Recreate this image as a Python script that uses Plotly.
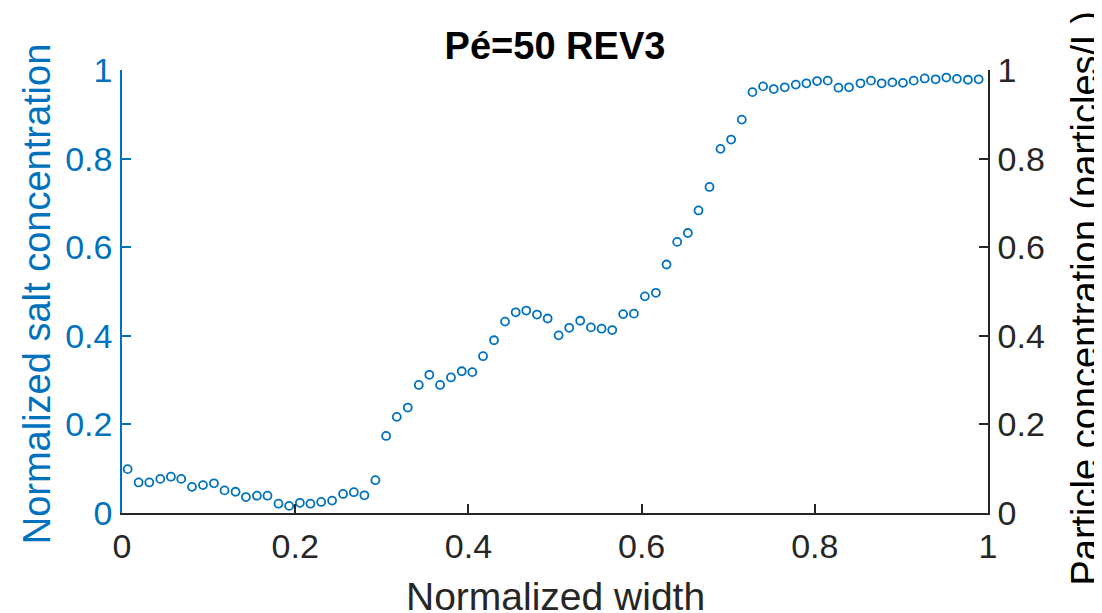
import plotly.graph_objects as go

# Data
width_norm = [0.0065, 0.0192, 0.0315, 0.0442, 0.0565, 0.0684, 0.0808, 0.0935, 0.1062, 0.1184,
              0.1311, 0.1431, 0.1558, 0.1680, 0.1807, 0.1930, 0.2054, 0.2176, 0.2300, 0.2426,
              0.2553, 0.2677, 0.2799, 0.2926, 0.3050, 0.3173, 0.3300, 0.3427, 0.3549, 0.3673,
              0.3799, 0.3923, 0.4045, 0.4169, 0.4296, 0.4423, 0.4546, 0.4668, 0.4792, 0.4915,
              0.5042, 0.5164, 0.5291, 0.5415, 0.5538, 0.5661, 0.5787, 0.5911, 0.6038, 0.6165,
              0.6288, 0.6411, 0.6534, 0.6657, 0.6784, 0.6911, 0.7034, 0.7157, 0.7280, 0.7403,
              0.7526, 0.7653, 0.7780, 0.7903, 0.8026, 0.8149, 0.8273, 0.8395, 0.8527, 0.8649,
              0.8772, 0.8896, 0.9018, 0.9142, 0.9269, 0.9395, 0.9519, 0.9641, 0.9768, 0.9892]

salt_conc = [0.099, 0.069, 0.069, 0.077, 0.082, 0.077, 0.059, 0.063, 0.067, 0.051,
             0.048, 0.036, 0.039, 0.039, 0.021, 0.016, 0.023, 0.021, 0.025, 0.028,
             0.043, 0.047, 0.040, 0.074, 0.174, 0.217, 0.238, 0.289, 0.312, 0.289,
             0.306, 0.320, 0.318, 0.354, 0.390, 0.432, 0.453, 0.457, 0.448, 0.439,
             0.401, 0.418, 0.434, 0.419, 0.416, 0.413, 0.449, 0.450, 0.489, 0.497,
             0.561, 0.612, 0.632, 0.683, 0.736, 0.822, 0.843, 0.888, 0.950, 0.963,
             0.957, 0.961, 0.967, 0.970, 0.975, 0.976, 0.960, 0.961, 0.970, 0.976,
             0.970, 0.972, 0.971, 0.976, 0.981, 0.979, 0.983, 0.980, 0.978, 0.979]

tick_vals = [0, 0.2, 0.4, 0.6, 0.8, 1]
tick_text = ["0", "0.2", "0.4", "0.6", "0.8", "1"]

BLUE = "#0072BD"
DARK = "#262626"
FONT = "Liberation Sans, Arial, sans-serif"

# The page body has an 8px default margin; margins below compensate for it.
fig = go.Figure()
fig.add_trace(go.Scatter(
    x=width_norm, y=salt_conc, mode="markers",
    marker=dict(symbol="circle-open", size=8, color=BLUE, line=dict(width=1.8, color=BLUE)),
    showlegend=False, cliponaxis=False,
))
fig.add_trace(go.Scatter(x=[], y=[], yaxis="y2", mode="markers", showlegend=False))

axis_common = dict(range=[0, 1], tickvals=tick_vals, ticktext=tick_text,
                   showline=True, linewidth=1.6, ticks="inside", ticklen=9, tickwidth=1.6,
                   showgrid=False, zeroline=False, automargin=False)

fig.update_layout(
    width=1102, height=613,
    margin=dict(l=114, r=122, t=62, b=108),
    paper_bgcolor="white", plot_bgcolor="white",
    font=dict(family=FONT, color=DARK),
    title=dict(text="<b>Pé=50 REV3</b>", x=0.5, xref="paper", xanchor="center",
               y=1 - 38 / 613, yref="container", yanchor="middle",
               font=dict(size=38, color="black", family=FONT)),
    xaxis=dict(**axis_common, linecolor=DARK, tickcolor=DARK,
               tickfont=dict(size=34, color=DARK), ticklabelstandoff=2),
    yaxis=dict(**axis_common, linecolor=BLUE, tickcolor=BLUE,
               tickfont=dict(size=34, color=BLUE), ticklabelstandoff=1),
    yaxis2=dict(**axis_common, overlaying="y", side="right", linecolor=DARK, tickcolor=DARK,
                tickfont=dict(size=34, color=DARK), ticklabelstandoff=1),
    annotations=[
        dict(text="Normalized width", x=0.5, xref="paper", y=(513 - 596) / 443, yref="paper",
             showarrow=False, font=dict(size=39, color=DARK), xanchor="center", yanchor="middle"),
        dict(text="Normalized salt concentration", x=-0.098, xref="paper", y=0.494, yref="paper",
             showarrow=False, textangle=-90, font=dict(size=38, color=BLUE),
             xanchor="center", yanchor="middle"),
        dict(text="Particle concentration (particles/L)", x=1.112, xref="paper", y=0.484,
             yref="paper", showarrow=False, textangle=-90, font=dict(size=38, color="black"),
             xanchor="center", yanchor="middle"),
    ],
)

fig.write_html("out.html")
